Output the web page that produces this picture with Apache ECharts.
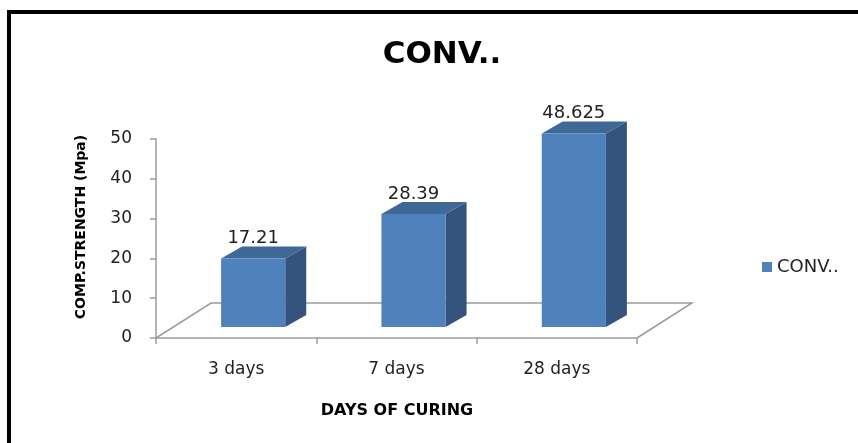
<!DOCTYPE html>
<html>
<head>
<meta charset="utf-8">
<script src="https://cdn.jsdelivr.net/npm/echarts@6/dist/echarts.min.js"></script>
<style>
  html, body { margin: 0; padding: 0; background: #ffffff; }
  #chart { width: 858px; height: 443px; }
</style>
</head>
<body>
<div id="chart"></div>
<script>
// Compressive strength of the conventional mix by curing age
const categories = ['3 days', '7 days', '28 days'];
const strength = [17.21, 28.39, 48.625];
const seriesName = 'CONV..';
const yTicks = [0, 10, 20, 30, 40, 50];

const FRONT = '#4F81BD';
const SIDE = '#34547E';
const TOP = '#3E6896';
const FLOOR = '#9C9C9C';

// pseudo-3D geometry (pixels)
const BAR_SHIFT = [17, -11];   // bar front face pushed back into the floor
const BAR_DEPTH = [21, -12];   // thickness of each column
const FLOOR_DEPTH = [55, -35]; // depth of the floor plane

const chart = echarts.init(document.getElementById('chart'));

function renderBar(params, api) {
  const idx = api.value(0);
  const val = api.value(1);
  const base = api.coord([idx, 0]);
  const top = api.coord([idx, val]);
  const band = api.size([1, 0])[0];
  const w = band * 0.4;
  const cx = base[0] + BAR_SHIFT[0];
  const x0 = cx - w / 2, x1 = cx + w / 2;
  const yb = base[1] + BAR_SHIFT[1];
  const yt = top[1] + BAR_SHIFT[1];
  const dx = BAR_DEPTH[0], dy = BAR_DEPTH[1];
  return {
    type: 'group',
    children: [
      { type: 'polygon', shape: { points: [[x1, yt], [x1 + dx, yt + dy], [x1 + dx, yb + dy], [x1, yb]] },
        style: { fill: SIDE } },
      { type: 'polygon', shape: { points: [[x0, yt], [x1, yt], [x1 + dx, yt + dy], [x0 + dx, yt + dy]] },
        style: { fill: TOP } },
      { type: 'rect', shape: { x: x0, y: yt, width: w, height: yb - yt },
        style: { fill: FRONT } },
      { type: 'text', x: cx, y: yt - 20,
        style: { text: String(val), fill: '#222222', font: '18px "DejaVu Sans"',
                 align: 'center', verticalAlign: 'middle' } }
    ]
  };
}

function renderFloor(params, api) {
  const band = api.size([1, 0])[0];
  const first = api.coord([0, 0]);
  const last = api.coord([categories.length - 1, 0]);
  const L = first[0] - band / 2, R = last[0] + band / 2, y = first[1];
  const dx = FLOOR_DEPTH[0], dy = FLOOR_DEPTH[1];
  return {
    type: 'polyline',
    shape: { points: [[L, y], [L + dx, y + dy], [R + dx, y + dy], [R, y]] },
    style: { stroke: FLOOR, lineWidth: 1.5, fill: null }
  };
}

const option = {
  backgroundColor: '#ffffff',
  animation: false,
  title: {
    text: 'CONV..',
    left: 437,
    top: 34,
    textAlign: 'center',
    textStyle: { fontFamily: 'DejaVu Sans', fontWeight: 'bold', fontSize: 31, color: '#000000' }
  },
  legend: {
    data: [{ name: seriesName, icon: 'rect' }],
    left: 757,
    top: 253,
    itemWidth: 10,
    itemHeight: 10,
    itemGap: 8,
    textStyle: { fontFamily: 'DejaVu Sans', fontSize: 18, color: '#222222' }
  },
  grid: { left: 156, top: 139, width: 481, height: 199, containLabel: false },
  xAxis: {
    type: 'category',
    data: categories,
    boundaryGap: true,
    axisLine: { lineStyle: { color: FLOOR, width: 1.5 } },
    axisTick: { show: true, length: 6, alignWithLabel: false, lineStyle: { color: FLOOR, width: 1.5 } },
    axisLabel: { margin: 23, fontFamily: 'DejaVu Sans', fontSize: 17, color: '#222222' },
    splitLine: { show: false }
  },
  yAxis: {
    type: 'value',
    min: yTicks[0],
    max: yTicks[yTicks.length - 1],
    interval: yTicks[1] - yTicks[0],
    axisLine: { show: true, lineStyle: { color: FLOOR, width: 1.5 } },
    axisTick: { show: true, length: 6, lineStyle: { color: FLOOR, width: 1.5 } },
    axisLabel: { margin: 24, fontFamily: 'DejaVu Sans', fontSize: 17, color: '#222222' },
    splitLine: { show: false }
  },
  graphic: [
    { type: 'rect', shape: { x: 9, y: 12, width: 900, height: 500 },
      style: { fill: null, stroke: '#000000', lineWidth: 4 }, z: 100 },
    { type: 'text', x: 81, y: 227, rotation: Math.PI / 2,
      style: { text: 'COMP.STRENGTH (Mpa)', font: 'bold 14px "DejaVu Sans"', fill: '#000000',
               align: 'center', verticalAlign: 'middle' } },
    { type: 'text', x: 397, y: 411,
      style: { text: 'DAYS OF CURING', font: 'bold 16px "DejaVu Sans"', fill: '#000000',
               align: 'center', verticalAlign: 'middle' } }
  ],
  series: [
    {
      name: 'floor',
      type: 'custom',
      clip: false,
      silent: true,
      z: 1,
      renderItem: renderFloor,
      data: [[0]]
    },
    {
      name: seriesName,
      type: 'custom',
      clip: false,
      z: 2,
      itemStyle: { color: FRONT },
      renderItem: renderBar,
      encode: { x: 0, y: 1 },
      data: strength.map((v, i) => [i, v])
    }
  ]
};

chart.setOption(option);
</script>
</body>
</html>
